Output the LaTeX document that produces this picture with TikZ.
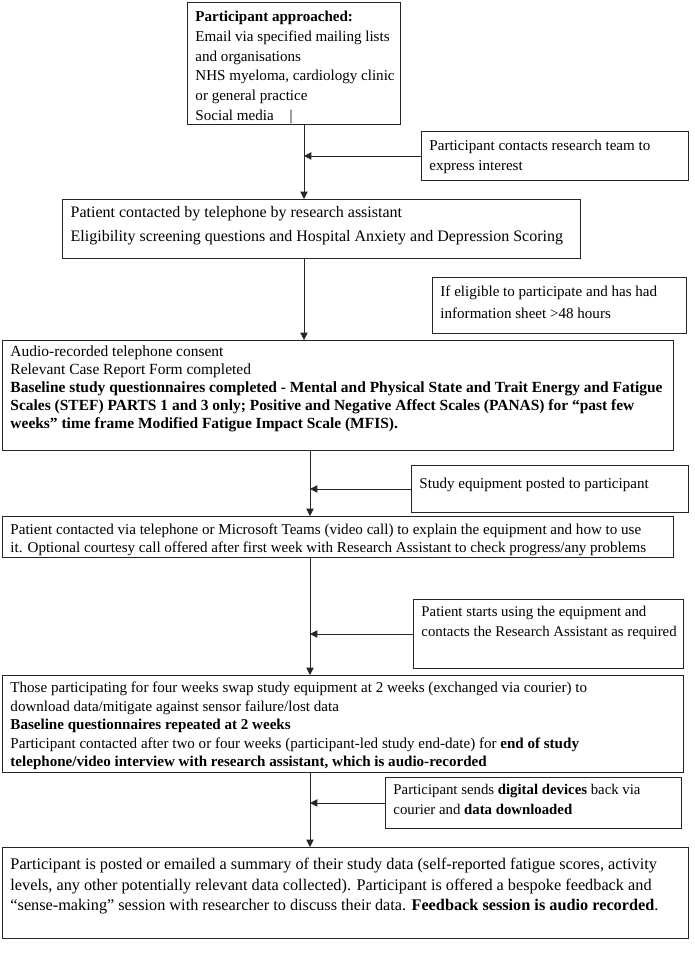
\documentclass[tikz,border=0pt]{standalone}
\usepackage{fontspec}
\setmainfont{Liberation Serif}
\usetikzlibrary{arrows.meta}

% text block of a stage: [top gap]{height}{width}{text}
\newcommand{\stagetext}[4][0pt]{\parbox[t][#2][t]{#3}{\raggedright\leftskip=3pt\vspace*{#1}#4}}

\tikzset{
	stage/.style={draw=black!85, line width=0.7pt, anchor=north west, inner xsep=3pt, inner ysep=4pt},
	flow/.style={draw=black!85, line width=0.6pt, -{Triangle[length=5.5pt,width=5.5pt]}},
}

\begin{document}
\begin{tikzpicture}[x=0.75pt, y=-0.75pt]
	\useasboundingbox (0,0) rectangle (695,956);
	\coordinate (upper) at (304,0);
	\coordinate (lower) at (310,0);

	% main column
	\node[stage, font=\fontsize{11.3}{14.8}\selectfont] (approach) at (187,2) {\stagetext[2.5pt]{83.5pt}{153.75pt}{%
		\textbf{Participant approached:}\\
		Email via specified mailing lists\\
		and organisations\\
		NHS myeloma, cardiology clinic\\
		or general practice\\
		Social media\hspace{12pt}|}};
	\node[stage, line width=1pt, font=\fontsize{12}{18}\selectfont] (screening) at (62,199) {\stagetext[1pt]{36.25pt}{382.5pt}{%
		Patient contacted by telephone by research assistant\\
		Eligibility screening questions and Hospital Anxiety and Depression Scoring}};
	\node[stage, font=\fontsize{11.6}{13.5}\selectfont] (consent) at (2,340) {\stagetext{74.5pt}{497.25pt}{%
		Audio-recorded telephone consent\\
		Relevant Case Report Form completed\\
		\textbf{Baseline study questionnaires completed - Mental and Physical State and Trait Energy and Fatigue\\
		Scales (STEF) PARTS 1 and 3 only; Positive and Negative Affect Scales (PANAS) for “past few\\
		weeks” time frame Modified Fatigue Impact Scale (MFIS).}}};
	\node[stage, font=\fontsize{11.3}{13.5}\selectfont] (briefing) at (2,516) {\stagetext[1.5pt]{23pt}{497.25pt}{%
		Patient contacted via telephone or Microsoft Teams (video call) to explain the equipment and how to use\\
		it. Optional courtesy call offered after first week with Research Assistant to check progress/any problems}};
	\node[stage, font=\fontsize{11.3}{13.9}\selectfont] (swap) at (2,675) {\stagetext[1pt]{64.75pt}{504.75pt}{%
		Those participating for four weeks swap study equipment at 2 weeks (exchanged via courier) to\\
		download data/mitigate against sensor failure/lost data\\
		\textbf{Baseline questionnaires repeated at 2 weeks}\\
		Participant contacted after two or four weeks (participant-led study end-date) for \textbf{end of study}\\
		\textbf{telephone/video interview with research assistant, which is audio-recorded}}};
	\node[stage, font=\fontsize{12.2}{15.4}\selectfont] (feedback) at (2,847) {\stagetext[4pt]{60.25pt}{508.5pt}{%
		Participant is posted or emailed a summary of their study data (self-reported fatigue scores, activity\\
		levels, any other potentially relevant data collected). Participant is offered a bespoke feedback and\\
		“sense-making” session with researcher to discuss their data. \textbf{Feedback session is audio recorded}.}};

	% side notes
	\node[stage, font=\fontsize{11.3}{15}\selectfont] (interest) at (421,131) {\stagetext[2.5pt]{28.75pt}{194.25pt}{%
		Participant contacts research team to\\
		express interest}};
	\node[stage, font=\fontsize{11.3}{16.5}\selectfont] (eligible) at (432,277) {\stagetext[2.5pt]{34pt}{184.5pt}{%
		If eligible to participate and has had\\
		information sheet >48 hours}};
	\node[stage, font=\fontsize{11.3}{15}\selectfont] (posted) at (411,465) {\stagetext[5.5pt]{27.25pt}{201.75pt}{%
		Study equipment posted to participant}};
	\node[stage, font=\fontsize{11.1}{15}\selectfont] (starts) at (413,599) {\stagetext[1pt]{43.75pt}{196.5pt}{%
		Patient starts using the equipment and\\
		contacts the Research Assistant as required}};
	\node[stage, font=\fontsize{11.1}{15}\selectfont] (sends) at (385,777) {\stagetext[1pt]{30.25pt}{216pt}{%
		Participant sends \textbf{digital devices} back via\\
		courier and \textbf{data downloaded}}};

	% connectors
	\draw[flow] (approach.south -| upper) -- (screening.north -| upper);
	\draw[flow] (interest.west) -- (interest.west -| upper);
	\draw[flow] (screening.south -| upper) -- (consent.north -| upper);
	\draw[flow] (consent.south -| lower) -- (briefing.north -| lower);
	\draw[flow] (posted.west) -- (posted.west -| lower);
	\draw[flow] (briefing.south -| lower) -- (swap.north -| lower);
	\draw[flow] (starts.west) -- (starts.west -| lower);
	\draw[flow] (swap.south -| lower) -- (feedback.north -| lower);
	\draw[flow] (sends.west) -- (sends.west -| lower);
\end{tikzpicture}
\end{document}
